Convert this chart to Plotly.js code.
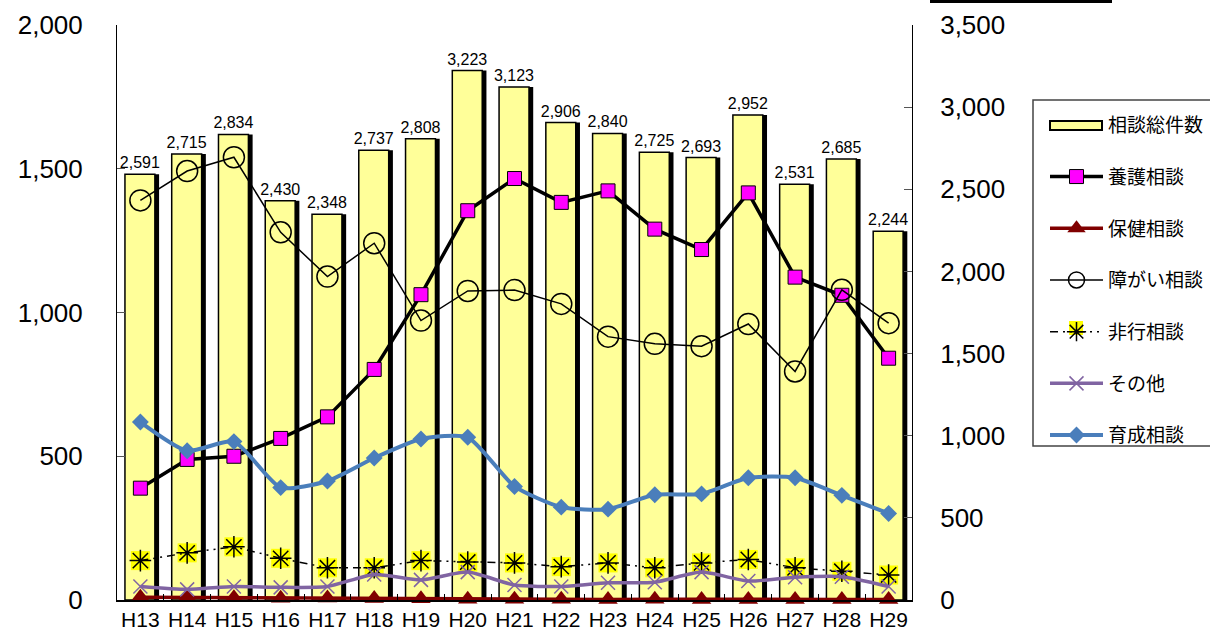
<!DOCTYPE html>
<html>
<head>
<meta charset="utf-8">
<script src="https://cdn.plot.ly/plotly-3.0.1.min.js"></script>
<style>html,body{margin:0;padding:0;background:#fff;}#chart{width:1210px;height:635px;}</style>
</head>
<body>
<div id="chart"></div>
<script>
const years = ["H13","H14","H15","H16","H17","H18","H19","H20","H21","H22","H23","H24","H25","H26","H27","H28","H29"];
const total = [2591,2715,2834,2430,2348,2737,2808,3223,3123,2906,2840,2725,2693,2952,2531,2685,2244];
const yougo = [389,489,500,562,637,802,1062,1354,1466,1383,1423,1290,1219,1416,1123,1060,841];
const hoken = [10,9,8,6,7,5,4,3,3,3,2,3,2,2,2,2,2];
const shougai = [1390,1492,1540,1279,1125,1241,972,1075,1078,1030,916,891,883,960,795,1079,963];
const hikou = [137,164,185,145,112,112,137,132,129,116,129,112,129,141,112,100,87];
const sonota = [47,37,47,44,47,89,70,97,52,47,60,62,97,66,79,81,47];
const ikusei = [619,519,551,391,414,494,560,566,395,323,316,366,369,425,425,364,301];

const F = "Liberation Sans, Arial, Noto Sans CJK JP, sans-serif";
const FJ = "Noto Sans CJK JP, sans-serif";

// plot area in pixels: x 117..912, y 25..600
const px = v => (v - 117) / 795;
const py = v => (600 - v) / 575;

const traces = [
  {type:'bar', x:years, y:total, yaxis:'y', name:'shadow', showlegend:false, hoverinfo:'skip',
   width:0.64, offset:-0.24, marker:{color:'#000000', line:{width:0}}},
  {type:'bar', x:years, y:total, yaxis:'y', name:'相談総件数', showlegend:false,
   width:0.64, offset:-0.33, marker:{color:'#FFFF99', line:{color:'#000000', width:1.5}},
   text:total, texttemplate:'%{y:,d}', textposition:'outside', cliponaxis:false, constraintext:'none',
   textfont:{family:F, size:16, color:'#000'}},
  {type:'scatter', mode:'lines', x:[null], y:[null], yaxis:'y2', name:'相談総件数', legendgroup:'g1',
   line:{color:'rgba(0,0,0,0)', width:0}},
  {type:'scatter', mode:'lines+markers', x:years, y:yougo, yaxis:'y2', name:'養護相談', legendgroup:'g2',
   line:{color:'#000000', width:3.5}, marker:{symbol:'square', size:14, color:'#FF00FF', line:{color:'#000', width:1}}},
  {type:'scatter', mode:'lines+markers', x:years, y:hoken, yaxis:'y2', name:'保健相談', legendgroup:'g3', cliponaxis:false,
   line:{color:'#800000', width:3.5}, marker:{symbol:'triangle-up', size:17, color:'#800000', line:{width:0}}},
  {type:'scatter', mode:'lines+markers', x:years, y:shougai, yaxis:'y2', name:'障がい相談', legendgroup:'g4',
   line:{color:'#000000', width:1.5}, marker:{symbol:'circle-open', size:21, color:'#000', line:{width:1.5}}},
  {type:'scatter', mode:'markers', x:years, y:hikou, yaxis:'y2', name:'hikoubg', showlegend:false, hoverinfo:'skip',
   marker:{symbol:'square', size:19, color:'#FFFF00', line:{width:0}}},
  {type:'scatter', mode:'lines+markers', x:years, y:hikou, yaxis:'y2', name:'非行相談', legendgroup:'g5',
   line:{color:'#000000', width:1.5, dash:'8px,5px,2px,5px,2px,5px'}, marker:{symbol:'asterisk-open', size:18, color:'#000', line:{width:1.5, color:'#000'}}},
  {type:'scatter', mode:'lines+markers', x:years, y:sonota, yaxis:'y2', name:'その他', legendgroup:'g6',
   line:{color:'#8064A2', width:3.5, shape:'spline', smoothing:0.6}, marker:{symbol:'x-thin-open', size:14, color:'#8064A2', line:{width:1.5, color:'#8064A2'}}},
  {type:'scatter', mode:'lines+markers', x:years, y:ikusei, yaxis:'y2', name:'育成相談', legendgroup:'g7',
   line:{color:'#4A7EBB', width:4, shape:'spline', smoothing:0.6}, marker:{symbol:'diamond', size:13, color:'#4A7EBB'}}
];

const layout = {
  width:1210, height:635,
  margin:{l:117, r:298, t:25, b:35, autoexpand:false},
  paper_bgcolor:'#ffffff', plot_bgcolor:'rgba(0,0,0,0)',
  separators:'.,',
  barmode:'overlay',
  showlegend:true,
  font:{family:F, color:'#000'},
  xaxis:{type:'category', range:[-0.5,16.5], showline:true, linecolor:'#000', linewidth:1.5,
    ticks:'inside', tickson:'boundaries', ticklen:6, tickcolor:'#000', tickangle:0,
    tickfont:{family:F, size:21, color:'#000'}, showgrid:false, zeroline:false, automargin:false},
  yaxis:{side:'right', range:[0,3500], dtick:500, tickformat:',d', showline:true, linecolor:'#000', linewidth:1,
    ticks:'inside', ticklen:8, tickcolor:'#555', ticklabelstandoff:22, automargin:false,
    tickfont:{family:F, size:26, color:'#000'}, showgrid:false, zeroline:false},
  yaxis2:{overlaying:'y', side:'left', range:[0,2000], dtick:500, tickformat:',d', showline:true, linecolor:'#000', linewidth:1,
    ticks:'inside', ticklen:8, tickcolor:'#555', ticklabelstandoff:28, automargin:false,
    tickfont:{family:F, size:26, color:'#000'}, showgrid:false, zeroline:false},
  legend:{x:px(1045), xanchor:'left', y:py(106), yanchor:'top', traceorder:'grouped', tracegroupgap:24,
    font:{family:FJ, size:19, color:'#000'}, bgcolor:'rgba(0,0,0,0)', borderwidth:0,
    itemwidth:53},
  shapes:[
    {type:'line', xref:'paper', yref:'paper', x0:px(930), x1:px(1112), y0:py(1), y1:py(1), line:{color:'#000', width:4}},
    {type:'rect', xref:'paper', yref:'paper', x0:px(1033), x1:px(1230), y0:py(100), y1:py(446), line:{color:'#444', width:1.5}, fillcolor:'#ffffff', layer:'below'},
    {type:'rect', xref:'paper', yref:'paper', x0:px(1050), x1:px(1102), y0:py(121), y1:py(130), line:{color:'#000', width:2}, fillcolor:'#FFFF99'},
    {type:'rect', xref:'paper', yref:'paper', x0:px(1069), x1:px(1083), y0:py(321), y1:py(335), line:{width:0}, fillcolor:'#FFFF00'}
  ]
};

Plotly.newPlot('chart', traces, layout, {displayModeBar:false, staticPlot:true});
</script>
</body>
</html>
